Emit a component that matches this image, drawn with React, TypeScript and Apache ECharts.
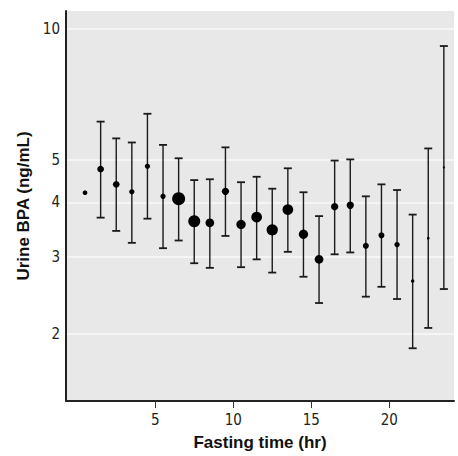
import React, { useEffect, useRef } from 'react';
import * as echarts from 'echarts';

const fastingHours = [0.5, 1.5, 2.5, 3.5, 4.5, 5.5, 6.5, 7.5, 8.5, 9.5, 10.5, 11.5, 12.5, 13.5, 14.5, 15.5, 16.5, 17.5, 18.5, 19.5, 20.5, 21.5, 22.5, 23.5];
const medianBPA = [4.21, 4.77, 4.4, 4.23, 4.84, 4.13, 4.08, 3.62, 3.59, 4.24, 3.56, 3.7, 3.46, 3.85, 3.38, 2.96, 3.91, 3.94, 3.18, 3.36, 3.2, 2.64, 3.31, 4.81];
const lowerCI = [null, 3.69, 3.44, 3.23, 3.67, 3.14, 3.27, 2.9, 2.83, 3.35, 2.84, 2.96, 2.76, 3.08, 2.7, 2.35, 3.04, 3.07, 2.43, 2.56, 2.4, 1.85, 2.06, 2.53];
const upperCI = [null, 6.13, 5.61, 5.49, 6.39, 5.42, 5.05, 4.5, 4.52, 5.35, 4.45, 4.58, 4.3, 4.79, 4.22, 3.72, 4.99, 5.02, 4.13, 4.4, 4.27, 3.75, 5.32, 9.14];
const markerSize = [4.7, 6.7, 6.7, 5.3, 5.3, 5.3, 13, 12, 8.7, 7.3, 9.3, 10.7, 11.3, 10.7, 9.3, 8.7, 7.3, 7.3, 6, 6, 5.3, 3.5, 2.7, 2];
const yTickValues = [2, 3, 4, 5, 10];
const xTickValues = [5, 10, 15, 20];
const yTitle = 'Urine BPA (ng/mL)';
const xTitle = 'Fasting time (hr)';

export default function App() {
  const ref = useRef<HTMLDivElement>(null);
  useEffect(() => {
    if (!ref.current) return;
    const chart = echarts.init(ref.current, null, { renderer: 'svg' });
    const lg = (v: number) => Math.log10(v);
    const pointData = fastingHours.map((h, i) => [h, lg(medianBPA[i]), markerSize[i]]);
    const errData: number[][] = [];
    fastingHours.forEach((h, i) => {
      const lo = lowerCI[i];
      const hi = upperCI[i];
      if (lo != null && hi != null) errData.push([h, lg(lo), lg(hi)]);
    });
    const tickFont = {
      fontFamily: '"Liberation Sans Narrow", "DejaVu Sans Condensed", sans-serif',
      fontSize: 15,
      color: '#222',
    };
    const titleFont = {
      fontFamily: '"Liberation Sans", Arial, sans-serif',
      fontSize: 17,
      fontWeight: 'bold' as const,
      color: '#111',
    };
    chart.setOption({
      animation: false,
      grid: {
        left: 66,
        right: 4,
        top: 11,
        bottom: 53,
        show: true,
        backgroundColor: '#e8e8e8',
        borderWidth: 0,
      },
      xAxis: {
        type: 'value',
        min: -0.72,
        max: 24.15,
        name: xTitle,
        nameLocation: 'middle',
        nameGap: 33,
        nameTextStyle: titleFont,
        axisLine: { show: true, onZero: false, lineStyle: { color: '#222', width: 2 } },
        axisTick: { show: true, length: 7, customValues: xTickValues, lineStyle: { color: '#333', width: 1 } },
        axisLabel: { customValues: xTickValues, margin: 11, ...tickFont },
        splitLine: { show: false },
      },
      yAxis: {
        type: 'value',
        min: lg(1.4),
        max: lg(11),
        name: yTitle,
        nameLocation: 'middle',
        nameGap: 25,
        nameTextStyle: titleFont,
        axisLine: { show: true, onZero: false, lineStyle: { color: '#222', width: 2 } },
        axisTick: { show: false, customValues: yTickValues.map(lg) },
        axisLabel: {
          customValues: yTickValues.map(lg),
          margin: 6,
          formatter: (v: number) => String(Math.round(Math.pow(10, v))),
          ...tickFont,
        },
        splitLine: { show: true, lineStyle: { color: '#fafafa', width: 1.5 } },
      },
      series: [
        {
          type: 'custom',
          data: errData,
          encode: { x: 0, y: [1, 2] },
          z: 2,
          renderItem: (params: any, api: any) => {
            const x = api.value(0);
            const pLo = api.coord([x, api.value(1)]);
            const pHi = api.coord([x, api.value(2)]);
            const w = 4;
            const barStyle = { stroke: '#1a1a1a', lineWidth: 1.4 };
            const capStyle = { stroke: '#1a1a1a', lineWidth: 1.8 };
            return {
              type: 'group',
              children: [
                { type: 'line', shape: { x1: pLo[0], y1: pLo[1], x2: pHi[0], y2: pHi[1] }, style: barStyle },
                { type: 'line', shape: { x1: pLo[0] - w, y1: pLo[1], x2: pLo[0] + w, y2: pLo[1] }, style: capStyle },
                { type: 'line', shape: { x1: pHi[0] - w, y1: pHi[1], x2: pHi[0] + w, y2: pHi[1] }, style: capStyle },
              ],
            };
          },
        },
        {
          type: 'scatter',
          data: pointData,
          z: 3,
          symbol: 'circle',
          symbolSize: (val: number[]) => val[2],
          itemStyle: { color: '#000', opacity: 1 },
        },
      ],
    });
    return () => chart.dispose();
  }, []);
  return <div ref={ref} style={{ position: 'absolute', left: 0, top: 0, width: 458, height: 456 }} />;
}
